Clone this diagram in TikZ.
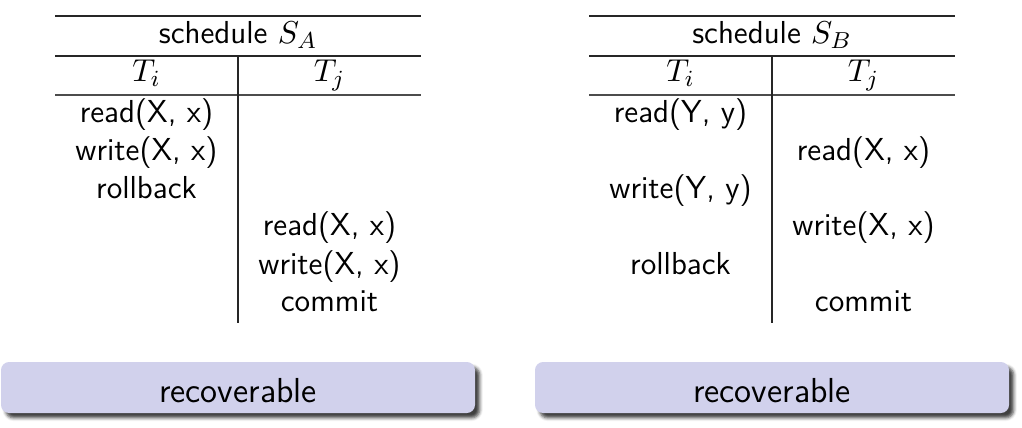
\documentclass[tikz,border=0pt]{standalone}
\usetikzlibrary{shadows.blur}
\definecolor{blockbg}{RGB}{209,209,236}
\begin{document}
\begin{tikzpicture}[x=0.346pt,y=-0.346pt,
  txt/.style={anchor=base,inner sep=0pt,font=\fontsize{11}{13}\selectfont\sffamily},
  rule/.style={line width=0.45pt,black!85},
  blockbox/.style={fill=blockbg,rounded corners=2.8pt,
    blur shadow={shadow xshift=1.6pt,shadow yshift=-1.7pt,shadow blur radius=1.1pt,shadow opacity=75}},
  blocktxt/.style={anchor=base,inner sep=0pt,font=\fontsize{12}{14}\selectfont\sffamily}]
\useasboundingbox (0,0) rectangle (1022,428);
% ---------- Table A ----------
\coordinate (a1l) at (55,16);  \coordinate (a1r) at (421,16);
\coordinate (a2l) at (55,56);  \coordinate (a2r) at (421,56);
\coordinate (a3l) at (55,95);  \coordinate (a3r) at (421,95);
\coordinate (avt) at (238,56); \coordinate (avb) at (238,323);
\draw[rule] (a1l) -- (a1r);
\draw[rule] (a2l) -- (a2r);
\draw[rule,line width=0.6pt,black!70] (a3l) -- (a3r);
\draw[rule] (avt) -- (avb);
\node[txt] (ahead) at (238,43.5) {schedule $S_A$};
\node[txt] (ati) at (146.5,82) {$T_i$};
\node[txt] (atj) at (329.5,82) {$T_j$};
\node[txt] (ar1) at (146.5,123) {read(X, x)};
\node[txt] (ar2) at (146.5,161) {write(X, x)};
\node[txt] (ar3) at (146.5,198) {rollback};
\node[txt] (ar4) at (329.5,236) {read(X, x)};
\node[txt] (ar5) at (329.5,274) {write(X, x)};
\node[txt] (ar6) at (329.5,311.5) {commit};
% ---------- Table B ----------
\coordinate (b1l) at (589,16);  \coordinate (b1r) at (955,16);
\coordinate (b2l) at (589,56);  \coordinate (b2r) at (955,56);
\coordinate (b3l) at (589,95);  \coordinate (b3r) at (955,95);
\coordinate (bvt) at (772,56); \coordinate (bvb) at (772,323);
\draw[rule] (b1l) -- (b1r);
\draw[rule] (b2l) -- (b2r);
\draw[rule,line width=0.6pt,black!70] (b3l) -- (b3r);
\draw[rule] (bvt) -- (bvb);
\node[txt] (bhead) at (772,43.5) {schedule $S_B$};
\node[txt] (bti) at (680.5,82) {$T_i$};
\node[txt] (btj) at (863.5,82) {$T_j$};
\node[txt] (br1) at (680.5,123) {read(Y, y)};
\node[txt] (br2) at (863.5,161) {read(X, x)};
\node[txt] (br3) at (680.5,198) {write(Y, y)};
\node[txt] (br4) at (863.5,236) {write(X, x)};
\node[txt] (br5) at (680.5,274) {rollback};
\node[txt] (br6) at (863.5,311.5) {commit};
% ---------- Blocks ----------
\path[blockbox] (1,362) rectangle (475,413);
\node[blocktxt] (ablock) at (238,402.5) {recoverable};
\path[blockbox] (535,362) rectangle (1009,413);
\node[blocktxt] (bblock) at (772,402.5) {recoverable};
\end{tikzpicture}
\end{document}
